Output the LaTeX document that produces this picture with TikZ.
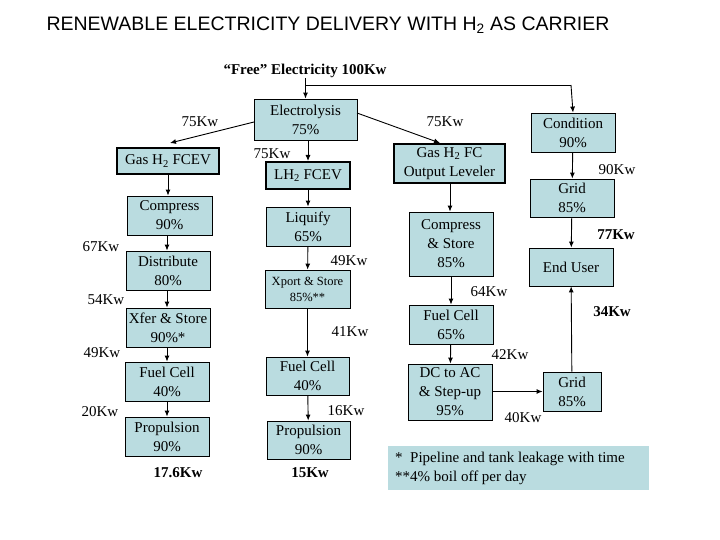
\documentclass[tikz,border=0pt]{standalone}
\usepackage{fontspec}
\setmainfont{Liberation Serif}
\newfontfamily\titlefont{Liberation Sans}
\usetikzlibrary{arrows.meta}
\definecolor{boxfill}{RGB}{186,220,224}
\begin{document}
\begin{tikzpicture}[x=1pt,y=-1pt,
  box/.style={draw=black,line width=0.8pt,fill=boxfill,align=center,inner sep=0pt,font=\fontsize{15}{19}\selectfont},
  tbox/.style={box,line width=2pt},
  lab/.style={font=\fontsize{15}{19}\selectfont,inner sep=0pt},
  blab/.style={lab,font=\fontsize{15}{19}\selectfont\bfseries},
  arr/.style={-{Latex[length=6pt,width=5pt]},line width=0.9pt}]
\useasboundingbox (0,0) rectangle (720,540);
\fill[white] (0,0) rectangle (720,540);
\node[font=\titlefont\fontsize{19.5}{22}\selectfont] (title) at (328,25) {RENEWABLE ELECTRICITY DELIVERY WITH H\textsubscript{2} AS CARRIER};
\node[blab] (free) at (305,71) {“Free” Electricity 100Kw};
% column 1
\node[box,minimum width=103pt,minimum height=41pt] (elec) at (305.5,119.5) {Electrolysis\\75\%};
\node[tbox,minimum width=102pt,minimum height=26pt] (gfcev) at (168,161) {Gas H\textsubscript{2} FCEV};
\node[box,minimum width=85pt,minimum height=39pt] (comp) at (169.5,215.5) {Compress\\90\%};
\node[box,minimum width=84pt,minimum height=39pt] (dist) at (168,270.5) {Distribute\\80\%};
\node[box,minimum width=84pt,minimum height=39pt] (xfer) at (168,327.5) {Xfer \& Store\\90\%*};
\node[box,minimum width=84pt,minimum height=39pt] (fc1) at (167,381.5) {Fuel Cell\\40\%};
\node[box,minimum width=84pt,minimum height=39pt] (prop1) at (167,436.5) {Propulsion\\90\%};
% column 2
\node[tbox,minimum width=84pt,minimum height=27pt] (lh2) at (308,175.5) {LH\textsubscript{2} FCEV};
\node[box,minimum width=84pt,minimum height=39pt] (liq) at (308,226.5) {Liquify\\65\%};
\node[box,minimum width=85pt,minimum height=38pt,font=\fontsize{12.5}{16}\selectfont] (xport) at (307.5,289) {Xport \& Store\\85\%**};
\node[box,minimum width=83pt,minimum height=38pt] (fc2) at (307.5,376) {Fuel Cell\\40\%};
\node[box,minimum width=83pt,minimum height=38pt] (prop2) at (308.5,440) {Propulsion\\90\%};
% column 3
\node[tbox,minimum width=111pt,minimum height=39pt] (gfc) at (449.5,163.5) {Gas H\textsubscript{2} FC\\Output Leveler};
\node[box,minimum width=84pt,minimum height=64pt] (cs) at (451,244) {Compress\\\& Store\\85\%};
\node[box,minimum width=84pt,minimum height=39pt] (fc3) at (451,324.5) {Fuel Cell\\65\%};
\node[box,minimum width=84pt,minimum height=56pt] (dc) at (450,392) {DC to AC\\\& Step-up\\95\%};
% column 4
\node[box,minimum width=84pt,minimum height=39pt] (cond) at (573,132.5) {Condition\\90\%};
\node[box,minimum width=84pt,minimum height=38pt] (grid1) at (572,198) {Grid\\85\%};
\node[box,minimum width=84pt,minimum height=38pt] (user) at (571,267) {End User};
\node[box,minimum width=58pt,minimum height=39pt] (grid2) at (572,391.5) {Grid\\85\%};
\node[fill=boxfill,minimum width=261pt,minimum height=44pt,inner sep=0pt] (note) at (518.5,468) {};
\node[lab,align=left,anchor=west] (notetxt) at (395,468) {*\ \ Pipeline and tank leakage with time\\**4\% boil off per day};
% arrows
\coordinate (corner) at (571,85);
\draw[arr] (free.south -| elec.north) -- (elec.north);
\draw[line width=0.9pt] (305,85) -- (corner);
\draw[arr] (corner) -- (cond.north);
\draw[arr] (254,122) -- (170,143);
\draw[arr] (357,113) -- (440,143);
\draw[arr] (elec.south -| lh2.north) -- (lh2.north);
\draw[arr] (gfcev) -- (comp.north -| gfcev.south);
\draw[arr] (comp.south -| 167,0) -- (dist.north -| 167,0);
\draw[arr] (dist.south -| 167,0) -- (xfer.north -| 167,0);
\draw[arr] (xfer.south -| 167,0) -- (fc1.north -| 167,0);
\draw[arr] (fc1.south -| 167,0) -- (prop1.north -| 167,0);
\draw[arr] (lh2) -- (liq);
\draw[arr] (liq) -- (xport);
\draw[arr] (xport) -- (fc2);
\draw[arr] (fc2) -- (prop2);
\draw[arr] (gfc.south -| 450,0) -- (cs.north -| 450,0);
\draw[arr] (cs) -- (fc3);
\draw[arr] (fc3) -- (dc);
\draw[arr] (dc.east |- grid2) -- (grid2.west);
\draw[arr] (grid2) -- (user);
\draw[arr] (cond) -- (grid1);
\draw[arr] (grid1) -- (user);
% labels
\node[lab] (l1) at (200,122) {75Kw};
\node[lab] (l2) at (272,154) {75Kw};
\node[lab] (l3) at (445,122) {75Kw};
\node[lab] (l4) at (101,247) {67Kw};
\node[lab] (l5) at (106,300) {54Kw};
\node[lab] (l6) at (102,353) {49Kw};
\node[lab] (l7) at (100,412) {20Kw};
\node[blab] (l8) at (178,473) {17.6Kw};
\node[blab] (l9) at (310,473) {15Kw};
\node[lab] (l10) at (349,261) {49Kw};
\node[lab] (l11) at (350,332) {41Kw};
\node[lab] (l12) at (346,411) {16Kw};
\node[lab] (l13) at (489,292) {64Kw};
\node[lab] (l14) at (510,355) {42Kw};
\node[lab] (l15) at (523,418) {40Kw};
\node[lab] (l16) at (617,170) {90Kw};
\node[blab] (l17) at (616,235) {77Kw};
\node[blab] (l18) at (612,312) {34Kw};
\end{tikzpicture}
\end{document}
